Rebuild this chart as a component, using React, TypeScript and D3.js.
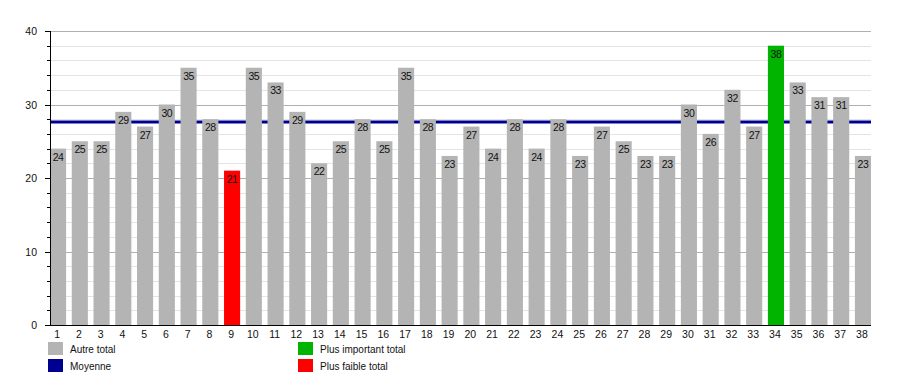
import { useRef, useEffect } from 'react'
import * as d3 from 'd3'

const categories = d3.range(1, 39).map(String)
const totals = [
  24, 25, 25, 29, 27, 30, 35, 28, 21, 35, 33, 29, 22, 25, 28, 25, 35, 28, 23, 27,
  24, 28, 24, 28, 23, 27, 25, 23, 23, 30, 26, 32, 27, 38, 33, 31, 31, 23,
]
const majorTicks = [0, 10, 20, 30, 40]
const legendItems = [
  { label: 'Autre total', color: '#b4b4b4', col: 0, row: 0 },
  { label: 'Moyenne', color: '#000090', col: 0, row: 1 },
  { label: 'Plus important total', color: '#00b400', col: 1, row: 0 },
  { label: 'Plus faible total', color: '#ff0000', col: 1, row: 1 },
]

const FONT = 'Liberation Sans, Arial, sans-serif'

export default function App() {
  const svgRef = useRef<SVGSVGElement>(null)

  useEffect(() => {
    if (!svgRef.current) return
    const svg = d3.select(svgRef.current)
    svg.selectAll('*').remove()

    const width = 900
    const height = 375
    const margin = { top: 31, right: 29, bottom: 50, left: 50 }
    const plotW = width - margin.left - margin.right
    const plotH = height - margin.top - margin.bottom

    svg.attr('width', width).attr('height', height)
    svg.append('rect').attr('width', width).attr('height', height).attr('fill', '#fff')

    const g = svg.append('g').attr('transform', `translate(${margin.left},${margin.top})`)

    const x = d3.scaleBand().domain(categories).range([0, plotW]).paddingInner(0.26).paddingOuter(0)
    const y = d3.scaleLinear().domain([0, 40]).range([plotH, 0])

    const maxV = d3.max(totals) ?? 0
    const minV = d3.min(totals) ?? 0
    const mean = d3.mean(totals) ?? 0

    // minor grid
    g.selectAll('.minor')
      .data(d3.range(2, 40, 2).filter((v) => v % 10 !== 0))
      .join('line')
      .attr('x1', 0)
      .attr('x2', plotW)
      .attr('y1', (d) => Math.round(y(d)) + 0.5)
      .attr('y2', (d) => Math.round(y(d)) + 0.5)
      .attr('stroke', '#e4e4e4')

    // major grid
    g.selectAll('.major')
      .data(majorTicks.filter((v) => v > 0))
      .join('line')
      .attr('x1', 0)
      .attr('x2', plotW)
      .attr('y1', (d) => Math.round(y(d)) + 0.5)
      .attr('y2', (d) => Math.round(y(d)) + 0.5)
      .attr('stroke', '#b0b0b0')

    // mean line (behind bars)
    g.append('line')
      .attr('x1', 0)
      .attr('x2', plotW)
      .attr('y1', y(mean))
      .attr('y2', y(mean))
      .attr('stroke', '#000090')
      .attr('stroke-width', 3)

    // bars
    g.selectAll('.bar')
      .data(totals)
      .join('rect')
      .attr('x', (_, i) => x(categories[i]) ?? 0)
      .attr('y', (d) => y(d))
      .attr('width', x.bandwidth())
      .attr('height', (d) => plotH - y(d))
      .attr('fill', (d) => (d === maxV ? '#00b400' : d === minV ? '#ff0000' : '#b4b4b4'))

    // value labels
    g.selectAll('.val')
      .data(totals)
      .join('text')
      .attr('x', (_, i) => (x(categories[i]) ?? 0) + x.bandwidth() / 2)
      .attr('y', (d) => y(d) + 12)
      .attr('text-anchor', 'middle')
      .attr('font-family', FONT)
      .attr('font-size', 10.5)
      .attr('letter-spacing', -0.5)
      .attr('fill', '#111')
      .text((d) => d)

    // y axis
    const yAxis = g.append('g').attr('font-family', FONT)
    yAxis.append('line').attr('x1', 0.5).attr('x2', 0.5).attr('y1', 0).attr('y2', plotH).attr('stroke', '#000')
    yAxis
      .selectAll('.minorTick')
      .data(d3.range(0, 41, 2))
      .join('line')
      .attr('x1', (d) => (d % 10 === 0 ? -5 : -3))
      .attr('x2', 0)
      .attr('y1', (d) => Math.round(y(d)) + 0.5)
      .attr('y2', (d) => Math.round(y(d)) + 0.5)
      .attr('stroke', '#000')
    yAxis
      .selectAll('.tickLabel')
      .data(majorTicks)
      .join('text')
      .attr('x', -13)
      .attr('y', (d) => y(d) + 4)
      .attr('text-anchor', 'end')
      .attr('font-size', 10.5)
      .attr('fill', '#111')
      .text((d) => d)

    // x axis
    g.append('line')
      .attr('x1', 0)
      .attr('x2', plotW)
      .attr('y1', plotH + 0.5)
      .attr('y2', plotH + 0.5)
      .attr('stroke', '#000')
    g.selectAll('.xLabel')
      .data(categories)
      .join('text')
      .attr('x', (d) => (x(d) ?? 0) + x.bandwidth() / 2 - 1)
      .attr('y', plotH + 13)
      .attr('text-anchor', 'middle')
      .attr('font-family', FONT)
      .attr('font-size', 10.5)
      .attr('fill', '#111')
      .text((d) => d)

    // legend
    const legend = svg.append('g').attr('transform', 'translate(48,342)').attr('font-family', FONT)
    const items = legend
      .selectAll('g')
      .data(legendItems)
      .join('g')
      .attr('transform', (d) => `translate(${d.col * 250},${d.row * 17})`)
    items.append('rect').attr('width', 15).attr('height', 13).attr('fill', (d) => d.color)
    items
      .append('text')
      .attr('x', 22)
      .attr('y', 10.5)
      .attr('font-size', 10)
      .attr('fill', '#111')
      .text((d) => d.label)
  }, [])

  return <svg ref={svgRef} style={{ position: 'absolute', left: 0, top: 0 }} />
}
